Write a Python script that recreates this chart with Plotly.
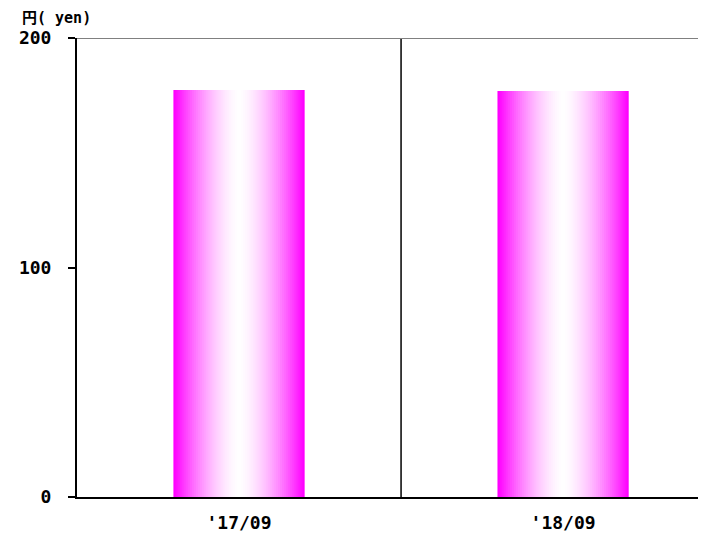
import plotly.graph_objects as go

categories = ["'17/09", "'18/09"]
positions = [0, 1]
values = [177.3, 176.9]
y_ticks = [0, 100, 200]

BAR_W = 0.405
LAYERS = 32
FONT = "DejaVu Sans Mono, Noto Sans CJK JP"

fig = go.Figure()
for k in range(LAYERS):
    frac = 1 - k / LAYERS          # width fraction of this layer
    t = frac ** 1.6                 # distance from center -> magenta
    g = int(round(255 * (1 - t)))
    fig.add_trace(go.Bar(
        x=positions, y=values, width=BAR_W * frac,
        marker=dict(color=f"rgb(255,{g},255)", line=dict(width=0)),
        showlegend=False, hoverinfo="skip",
    ))

# page body adds an 8px offset, so the figure is 8px smaller
fig.update_layout(
    width=698, height=528,
    margin=dict(l=69, r=0, t=30, b=39, autoexpand=False),
    barmode="overlay",
    plot_bgcolor="white", paper_bgcolor="white",
    font=dict(family=FONT, size=18, color="black"),
    xaxis=dict(range=[-0.5, 1.441], tickvals=positions, ticktext=categories,
               showgrid=False, zeroline=False, showline=True, linecolor="black",
               linewidth=2, ticks="", ticklabelstandoff=8, automargin=False,
               tickfont=dict(family=FONT, size=18, weight="bold")),
    yaxis=dict(range=[0, 200], tickvals=y_ticks, showgrid=False, zeroline=False,
               showline=True, linecolor="black", linewidth=2, automargin=False,
               ticks="outside", ticklen=7, tickcolor="black", tickwidth=2,
               ticklabelstandoff=13,
               tickfont=dict(family=FONT, size=18, weight="bold")),
    shapes=[
        dict(type="line", xref="x", yref="y", x0=0.5, x1=0.5, y0=0, y1=200,
             line=dict(color="black", width=1.5)),
        dict(type="line", xref="paper", yref="y", x0=0, x1=1, y0=200, y1=200,
             line=dict(color="gray", width=2)),
    ],
    annotations=[
        dict(text="円( yen)", xref="paper", yref="paper", x=-0.0906, y=1.0,
             yshift=9, xanchor="left", yanchor="bottom", showarrow=False,
             font=dict(family=FONT, size=15, weight="bold")),
    ],
)

fig.write_html("out.html")
